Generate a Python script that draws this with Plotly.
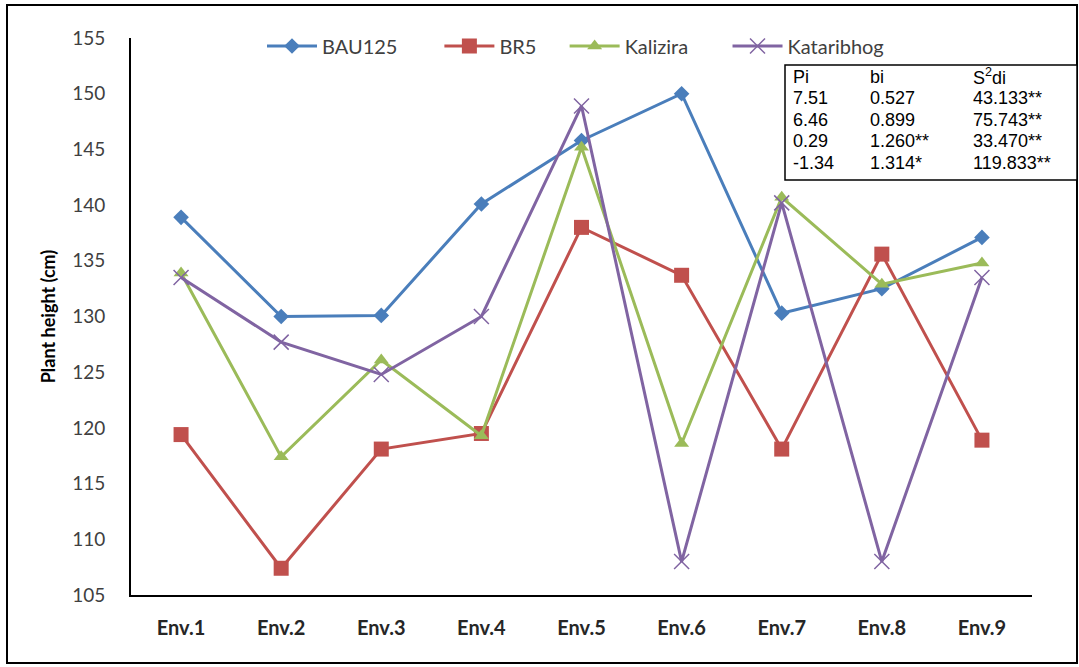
import plotly.graph_objects as go

envs = ["Env.1", "Env.2", "Env.3", "Env.4", "Env.5", "Env.6", "Env.7", "Env.8", "Env.9"]
bau125 = [138.9, 130.0, 130.1, 140.1, 145.8, 150.0, 130.3, 132.5, 137.1]
br5 = [119.4, 107.4, 118.1, 119.5, 138.0, 133.7, 118.1, 135.6, 118.9]
kalizira = [133.9, 117.4, 126.1, 119.3, 145.2, 118.6, 140.7, 132.9, 134.8]
kataribhog = [133.5, 127.7, 124.8, 130.0, 148.9, 108.0, 140.2, 108.0, 133.5]

series_names = ["BAU125", "BR5", "Kalizira", "Kataribhog"]
series_values = [bau125, br5, kalizira, kataribhog]
colors = ["#4A7EBB", "#C0504D", "#9BBB59", "#8064A2"]
symbols = ["diamond", "square", "triangle-up", "x-thin"]
msizes = [12, 15, 13, 15]
legend_pads = ["__M", "__i", "__ni", ""]

pi_vals = ["Pi", "7.51", "6.46", "0.29", "-1.34"]
bi_vals = ["bi", "0.527", "0.899", "1.260**", "1.314*"]
s2di_vals = ["S<sup>2</sup>di", "43.133**", "75.743**", "33.470**", "119.833**"]

W, H = 1079, 667
L, R, T, B = 131, 1032, 38, 595

fig = go.Figure()
for name, vals, c, s, ms, p in zip(series_names, series_values, colors, symbols, msizes, legend_pads):
    label = name + (f"<span style='color:rgba(0,0,0,0)'>{p}</span>" if p else "")
    fig.add_trace(go.Scatter(
        x=envs, y=vals, name=label,
        mode="lines+markers",
        line=dict(color=c, width=3),
        marker=dict(symbol=s, size=ms, color=c,
                    line=dict(color=c, width=1.5 if s == "x-thin" else 0)),
    ))

def px(x):
    return (x - L) / (R - L)

def py(y):
    return (B - y) / (B - T)

shapes = [
    dict(type="rect", xref="paper", yref="paper",
         x0=px(7), x1=px(1077), y0=py(663), y1=py(5),
         line=dict(color="black", width=2), fillcolor="rgba(0,0,0,0)", layer="below"),
    dict(type="rect", xref="paper", yref="paper",
         x0=px(785), x1=px(1077), y0=py(180), y1=py(65),
         line=dict(color="black", width=1.5), fillcolor="white", layer="above"),
]

annotations = []
row_y = [77, 98, 120, 141, 163]
for col, xpos in zip([pi_vals, bi_vals, s2di_vals], [793, 870, 973]):
    for txt, yy in zip(col, row_y):
        annotations.append(dict(
            xref="paper", yref="paper", x=px(xpos), y=py(yy),
            xanchor="left", yanchor="middle", align="left", showarrow=False,
            text=txt, xshift=-2,
            font=dict(family="Liberation Sans, Arial", size=18, color="black"),
        ))

fig.update_layout(
    width=W, height=H,
    margin=dict(l=L, r=W - R, t=T, b=H - B),
    paper_bgcolor="white", plot_bgcolor="white",
    showlegend=True,
    legend=dict(orientation="h", x=px(262), xanchor="left", y=py(46), yanchor="middle",
                font=dict(family="Lato, Carlito, sans-serif", size=20, color="#404040"),
                itemwidth=50, tracegroupgap=0, bgcolor="rgba(0,0,0,0)"),
    xaxis=dict(type="category", range=[-0.5, 8.5], showline=True, linecolor="black",
               linewidth=2, ticks="", showgrid=False, zeroline=False,
               tickfont=dict(family="Lato, Carlito, sans-serif", size=20, color="#262626",
                             weight="bold"),
               ticklabelstandoff=14),
    yaxis=dict(range=[105, 155], dtick=5, showline=True, linecolor="black", linewidth=2,
               ticks="", showgrid=False, zeroline=False,
               tickfont=dict(family="Lato, Carlito, sans-serif", size=19, color="#404040"),
               ticklabelstandoff=20,
               title=dict(text="<b>Plant height (cm)</b>", standoff=12,
                          font=dict(family="Lato, Carlito, sans-serif", size=18, color="black"))),
    shapes=shapes,
    annotations=annotations,
)

fig.write_html("out.html", config={"displayModeBar": False},
               post_script="document.body.style.margin='0px';")
